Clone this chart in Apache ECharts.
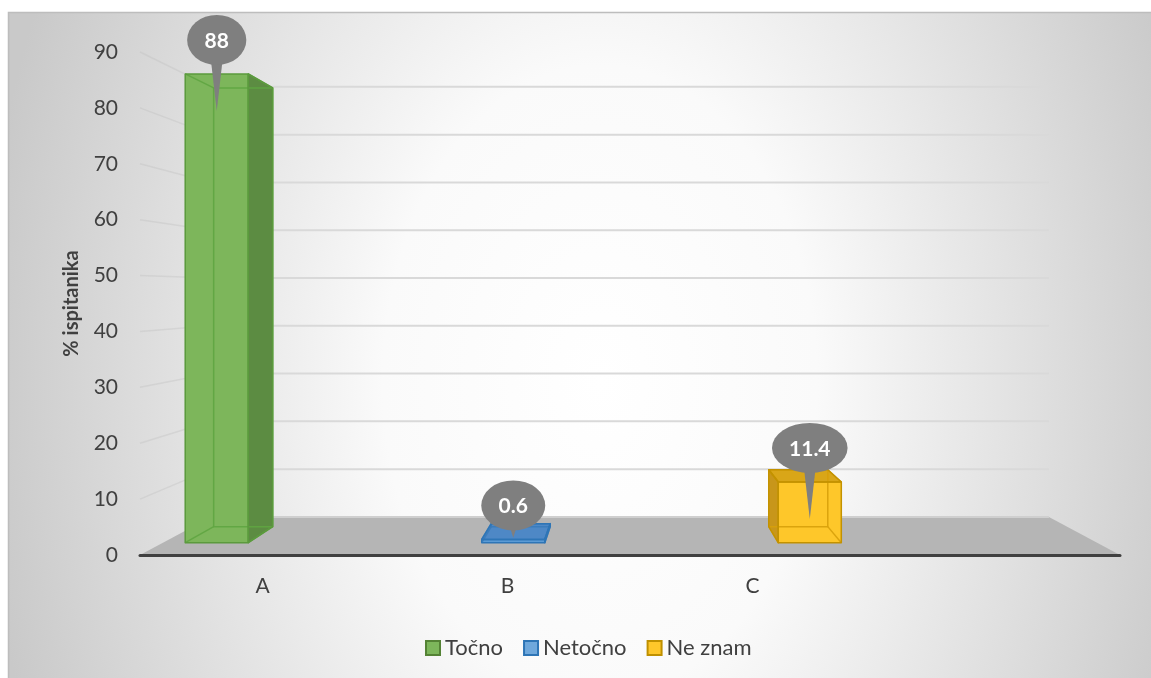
<!DOCTYPE html>
<html>
<head>
<meta charset="utf-8">
<script src="https://cdn.jsdelivr.net/npm/echarts@6/dist/echarts.min.js"></script>
<style>html,body{margin:0;padding:0;background:#fff}#c{width:1151px;height:678px}</style>
</head>
<body>
<div id="c"></div>
<script>
// ---- data ----
const categories = ['A', 'B', 'C', ''];
const tocno = [88, null, null, null];
const netocno = [null, 0.6, null, null];
const neZnam = [null, null, 11.4, null];
const yTicks = [0, 10, 20, 30, 40, 50, 60, 70, 80, 90];
const seriesNames = ['Točno', 'Netočno', 'Ne znam'];
const seriesValues = [tocno, netocno, neZnam];

// ---- 3D look parameters ----
const EYE_VALUE = 47;          // eye level on the value axis
const S_FLOOR_BACK = 0.855;    // perspective scale of back wall
const S_BAR_FRONT = 0.953;
const S_BAR_BACK = 0.892;
const FONT = 'Lato';

const palettes = [
  {front: '#7db65b', side: '#5c8c42', top: '#6aa04a', border: '#5b9a3d', inner: 'rgba(95,165,65,0.9)', legend: '#7db65b', legendBorder: '#548235'},
  {front: '#5b9bd5', side: '#3f78b0', top: '#4e88c6', border: '#2e75b6', inner: 'rgba(46,117,182,0.6)', legend: '#6fa8dc', legendBorder: '#2e75b6'},
  {front: '#fec72a', side: '#c8961a', top: '#d9a618', border: '#c39200', inner: 'rgba(215,160,10,0.9)', legend: '#fec72a', legendBorder: '#bf9000'}
];

const mctx = document.createElement('canvas').getContext('2d');
function textW(t) { mctx.font = 'bold 20px ' + FONT; return mctx.measureText(t).width; }

function vanish(api) {
  const x0 = api.coord([0, 0])[0];
  const x3 = api.coord([categories.length - 1, 0])[0];
  return [(x0 + x3) / 2, api.coord([0, EYE_VALUE])[1]];
}
function P(V, x, y, s) { return [V[0] + (x - V[0]) * s, V[1] + (y - V[1]) * s]; }
function poly(pts, fill, stroke, lw) {
  const st = {fill: fill || 'none'};
  if (stroke) { st.stroke = stroke; st.lineWidth = lw; st.lineJoin = 'round'; }
  return {type: 'polygon', shape: {points: pts}, style: st};
}
function seg(a, b, stroke, lw) {
  return {type: 'line', shape: {x1: a[0], y1: a[1], x2: b[0], y2: b[1]}, style: {stroke: stroke, lineWidth: lw}};
}

function renderWalls(params, api) {
  const v = api.value(1);
  const V = vanish(api);
  const band = api.size([1, 0])[0];
  const xL = api.coord([0, 0])[0] - band / 2;
  const xR = api.coord([categories.length - 1, 0])[0] + band / 2;
  const y = api.coord([0, v])[1];
  const s = S_FLOOR_BACK;
  const ch = [];
  if (params.dataIndex === 0) {
    ch.push(poly([P(V, xL, y, 1), P(V, xR, y, 1), P(V, xR, y, s), P(V, xL, y, s)], '#b5b5b5'));
    ch.push(seg(P(V, xL, y, s), P(V, xR, y, s), '#cfcfcf', 2));
  } else {
    ch.push(seg(P(V, xL, y, s), P(V, xR, y, s), '#d9d9d9', 2));
    ch.push(seg(P(V, xL, y, 1), P(V, xL, y, s), 'rgba(190,190,190,0.35)', 1.5));
  }
  return {type: 'group', children: ch};
}

function makeBarRender(si) {
  return function (params, api) {
    const val = api.value(1);
    if (val == null || isNaN(val)) return null;
    const cat = api.value(0);
    const V = vanish(api);
    const band = api.size([1, 0])[0];
    const w = band * 0.27;
    const cx = api.coord([cat, 0])[0] + (si - 1) * w;
    const xl = cx - w / 2, xr = cx + w / 2;
    const yt = api.coord([cat, val])[1], yb = api.coord([cat, 0])[1];
    const f = S_BAR_FRONT, k = S_BAR_BACK;
    const FLT = P(V, xl, yt, f), FRT = P(V, xr, yt, f), FLB = P(V, xl, yb, f), FRB = P(V, xr, yb, f);
    const KLT = P(V, xl, yt, k), KRT = P(V, xr, yt, k), KLB = P(V, xl, yb, k), KRB = P(V, xr, yb, k);
    const pal = palettes[si];
    const ch = [];
    const showTop = yt > V[1];
    const showRight = xr < V[0];
    const showLeft = xl > V[0];
    // fills
    if (showLeft) ch.push(poly([KLT, FLT, FLB, KLB], pal.side));
    if (showRight) ch.push(poly([FRT, KRT, KRB, FRB], pal.side));
    if (showTop) ch.push(poly([KLT, KRT, FRT, FLT], pal.top));
    ch.push(poly([FLT, FRT, FRB, FLB], pal.front));
    // hidden edges seen through the translucent box
    ch.push(poly([KLT, KRT, KRB, KLB], null, pal.inner, 1.5));
    ch.push(seg(FLT, KLT, pal.inner, 1.5), seg(FRT, KRT, pal.inner, 1.5),
            seg(FLB, KLB, pal.inner, 1.5), seg(FRB, KRB, pal.inner, 1.5));
    // visible outlines
    if (showLeft) ch.push(poly([KLT, FLT, FLB, KLB], null, pal.border, 1.5));
    if (showRight) ch.push(poly([FRT, KRT, KRB, FRB], null, pal.border, 1.5));
    if (showTop) ch.push(poly([KLT, KRT, FRT, FLT], null, pal.border, 1.5));
    ch.push(poly([FLT, FRT, FRB, FLB], null, pal.border, 1.5));
    // callout label
    const label = String(val);
    const tw = textW(label);
    const rx = (tw + 36) / 2, ry = 25;
    const ex = (FLT[0] + FRT[0]) / 2, ey = FLT[1] - 34;
    const tipY = Math.min(FLT[1] + 37, FLB[1] - 5);
    ch.push({type: 'polygon', shape: {points: [[ex - 7, ey + 10], [ex + 7, ey + 10], [ex, tipY]]}, style: {fill: '#7f7f7f'}});
    ch.push({type: 'circle', x: ex, y: ey, scaleX: rx / ry, shape: {cx: 0, cy: 0, r: ry}, style: {fill: '#7f7f7f'}});
    ch.push({type: 'text', style: {text: label, x: ex, y: ey + 1, align: 'center', verticalAlign: 'middle',
      fill: '#ffffff', fontSize: 21, fontWeight: 'bold', fontFamily: FONT}});
    return {type: 'group', children: ch};
  };
}

const chart = echarts.init(document.getElementById('c'), null, {renderer: 'canvas'});

const bgScaleY = 1.45;
const series = [{
  name: 'walls', type: 'custom', z: 1, silent: true,
  renderItem: renderWalls,
  data: yTicks.map(v => [0, v])
}];
seriesNames.forEach((n, i) => {
  series.push({
    name: n, type: 'custom', z: 3,
    renderItem: makeBarRender(i),
    itemStyle: {color: palettes[i].legend, borderColor: palettes[i].legendBorder, borderWidth: 2},
    data: seriesValues[i].map((v, j) => [j, v])
  });
});

chart.setOption({
  backgroundColor: '#ffffff',
  animation: false,
  graphic: [
    {type: 'rect', z: -100, x: 8, y: 12, scaleY: bgScaleY, silent: true,
     shape: {x: 0, y: 0, width: 1143, height: 666 / bgScaleY},
     style: {fill: {type: 'radial', x: 0.518, y: 0.553, r: 1.35,
       colorStops: [{offset: 0, color: '#ffffff'}, {offset: 0.35, color: '#fafafa'}, {offset: 1, color: '#c9c9c9'}]}}},
    {type: 'rect', z: -99, silent: true, shape: {x: 8.5, y: 12.5, width: 1150, height: 670},
     style: {fill: 'none', stroke: '#bdbdbd', lineWidth: 1.5}}
  ],
  grid: {left: 140, right: 31, top: 52, bottom: 123, containLabel: false},
  legend: {
    left: 420, top: 632, icon: 'rect', itemWidth: 14, itemHeight: 14, itemGap: 20,
    textStyle: {fontSize: 22, color: '#404040', fontFamily: FONT},
    data: seriesNames.map((n, i) => ({name: n, itemStyle: {color: palettes[i].legend, borderColor: palettes[i].legendBorder, borderWidth: 2}}))
  },
  xAxis: {
    type: 'category', data: categories, z: 10,
    axisLine: {show: true, lineStyle: {color: '#404040', width: 3}},
    axisTick: {show: false},
    axisLabel: {margin: 21, fontSize: 21, color: '#404040', fontFamily: FONT},
    splitLine: {show: false}
  },
  yAxis: {
    type: 'value', min: 0, max: 90, interval: 10,
    name: '% ispitanika', nameLocation: 'middle', nameGap: 58,
    nameTextStyle: {fontSize: 20, fontWeight: 'bold', color: '#404040', fontFamily: FONT},
    axisLine: {show: false}, axisTick: {show: false},
    axisLabel: {margin: 22, fontSize: 21, color: '#404040', fontFamily: FONT},
    splitLine: {show: false}
  },
  series: series
});
</script>
</body>
</html>
